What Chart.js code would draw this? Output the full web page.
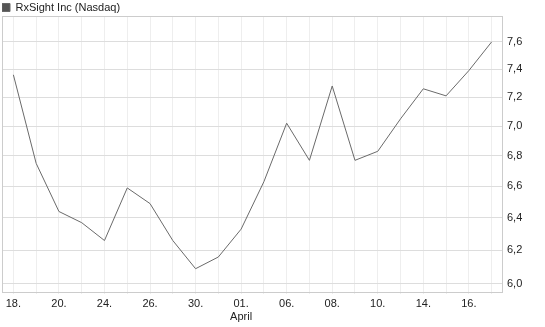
<!DOCTYPE html>
<html>
<head>
<meta charset="utf-8">
<script src="https://cdn.jsdelivr.net/npm/chart.js@4"></script>
<style>
  html, body { margin: 0; padding: 0; background: #fff; }
  #chart { display: block; }
</style>
</head>
<body>
<canvas id="chart" width="545" height="327"></canvas>
<script>
// dates (only every second one is labelled on the axis)
const days = ['18.', '19.', '20.', '22.', '24.', '25.', '26.', '27.', '30.', '31.', ['01.', 'April'], '04.',
  '06.', '07.', '08.', '09.', '10.', '13.', '14.', '15.', '16.', '17.'];
const prices = [7.36, 6.75, 6.44, 6.37, 6.26, 6.59, 6.49, 6.26, 6.09, 6.16, 6.33, 6.63,
  7.02, 6.77, 7.28, 6.77, 6.83, 7.05, 7.26, 7.21, 7.39, 7.60];
const yTicks = [6.0, 6.2, 6.4, 6.6, 6.8, 7.0, 7.2, 7.4, 7.6];

const colors = {
  line: '#6a6a6a',
  box: '#555555',
  text: '#222222',
  gridH: '#dddddd',
  gridV: '#eeeeee',
  frame: '#cccccc'
};

Chart.defaults.font.family = '"Liberation Sans", Arial, sans-serif';
Chart.defaults.font.size = 11;
Chart.defaults.color = colors.text;

// thin frame round the plot area
const frame = {
  id: 'frame',
  beforeDatasetsDraw(chart) {
    const { ctx, chartArea: a } = chart;
    ctx.save();
    ctx.strokeStyle = colors.frame;
    ctx.lineWidth = 1;
    ctx.strokeRect(Math.round(a.left) + 0.5, Math.round(a.top) + 0.5,
      Math.round(a.right - a.left) - 1, Math.round(a.bottom - a.top));
    ctx.restore();
  }
};

new Chart(document.getElementById('chart').getContext('2d'), {
  type: 'line',
  data: {
    labels: days,
    datasets: [{
      label: 'RxSight Inc (Nasdaq)',
      data: prices,
      borderColor: colors.line,
      backgroundColor: colors.box,
      borderWidth: 1,
      pointRadius: 0,
      tension: 0
    }]
  },
  options: {
    responsive: false,
    animation: false,
    layout: { padding: { left: 2, top: 2, right: 0, bottom: 0 } },
    plugins: {
      legend: {
        position: 'top',
        align: 'start',
        maxHeight: 14,
        labels: { boxWidth: 8, boxHeight: 8, padding: 0, color: colors.text }
      },
      tooltip: { enabled: false }
    },
    scales: {
      x: {
        offset: true,
        grid: { offset: false, color: colors.gridV, tickLength: 2, tickColor: colors.gridV },
        border: { display: false },
        ticks: {
          autoSkip: false,
          maxRotation: 0,
          padding: 3,
          callback: function (v, i) { return i % 2 === 0 ? this.getLabelForValue(v) : ''; }
        },
        afterFit: s => { s.height = 35; }
      },
      y: {
        type: 'logarithmic',
        position: 'right',
        min: 5.953,
        max: 7.795,
        afterBuildTicks: s => { s.ticks = yTicks.map(v => ({ value: v })); },
        grid: { color: colors.gridH, drawTicks: false },
        border: { display: false },
        ticks: {
          padding: 4,
          callback: v => v.toFixed(1).replace('.', ',')
        },
        afterFit: s => { s.width = 42; }
      }
    }
  },
  plugins: [frame]
});
</script>
</body>
</html>
